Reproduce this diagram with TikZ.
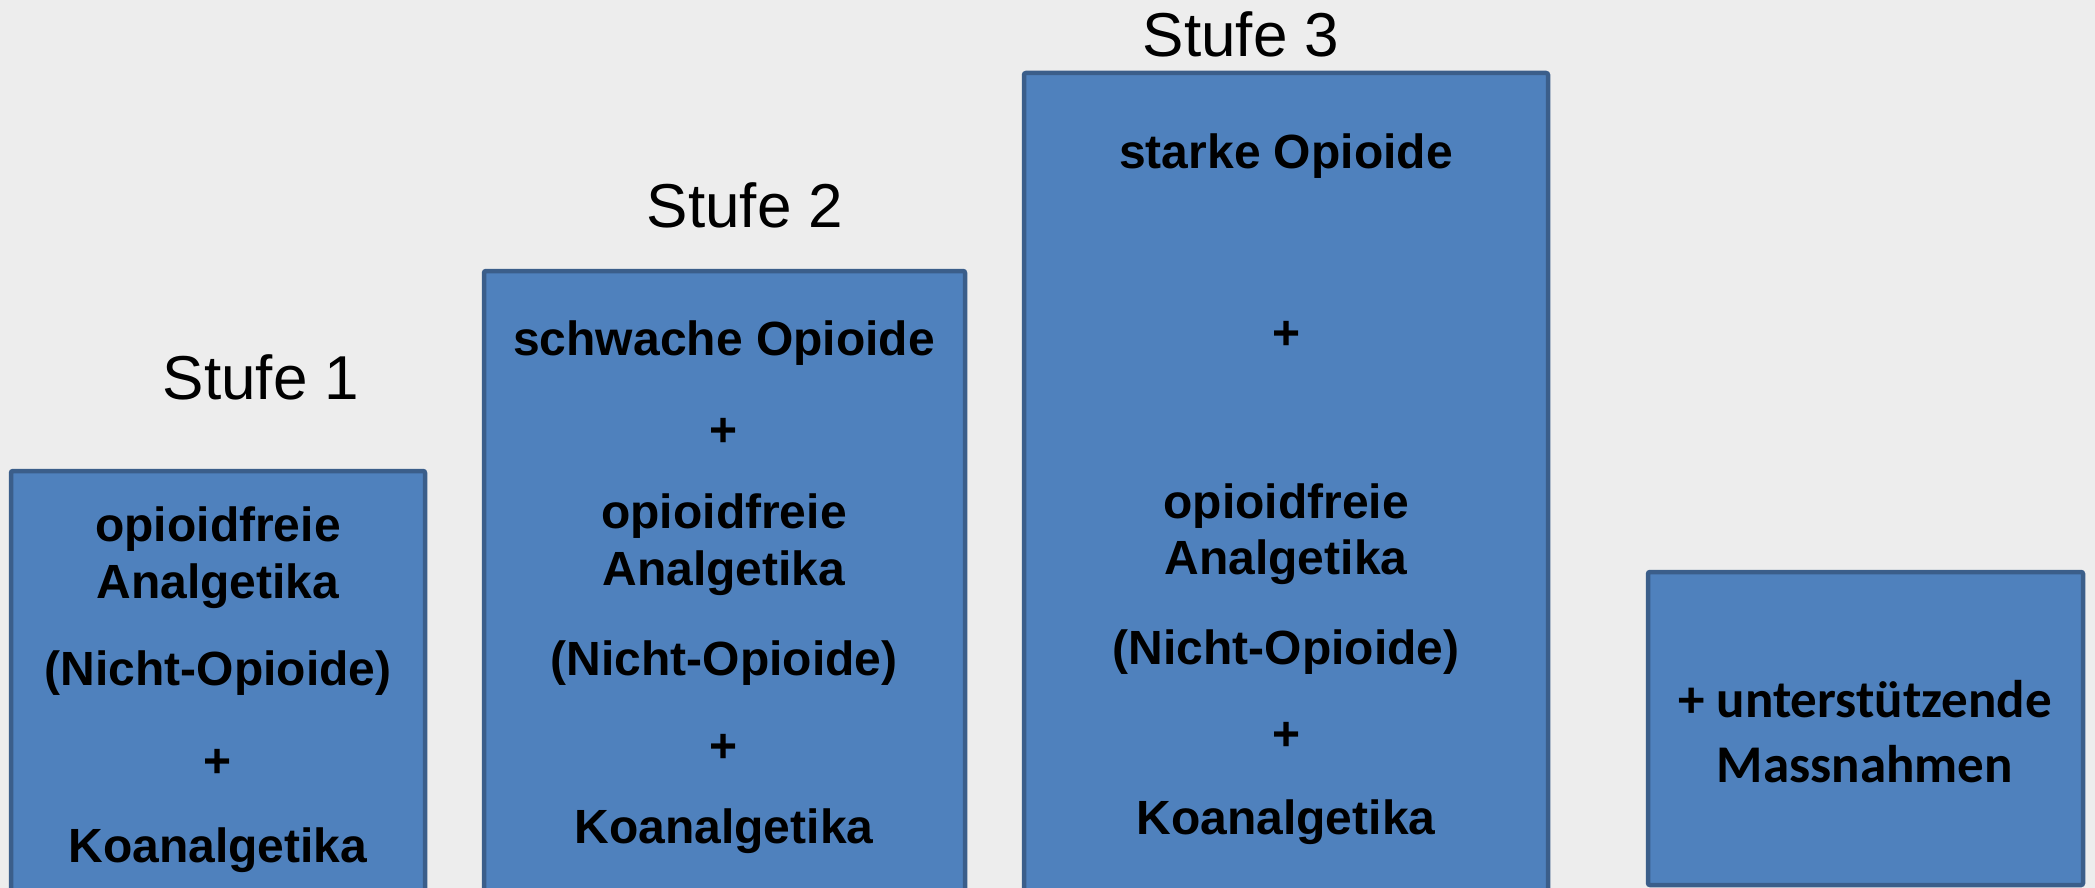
\documentclass[tikz,border=0pt]{standalone}
\usepackage{fontspec}
\setmainfont{Liberation Sans}
\newfontfamily\calib{Carlito}
\definecolor{bg}{HTML}{EDEDED}
\definecolor{boxfill}{HTML}{4F81BD}
\definecolor{boxline}{HTML}{3B5E8A}
\begin{document}
\begin{tikzpicture}[x=1pt,y=-1pt,
  stufebox/.style={draw=boxline,fill=boxfill,line width=4.5pt,rounded corners=2pt},
  boxtxt/.style={anchor=base,inner sep=0pt,font=\fontsize{48}{56}\selectfont\bfseries},
  boxtxtc/.style={anchor=base,inner sep=0pt,font=\fontsize{53}{60}\selectfont\calib\bfseries},
  stufelbl/.style={anchor=base,inner sep=0pt,font=\fontsize{62}{70}\selectfont}]
\fill[bg] (0,0) rectangle (2095,888);
\useasboundingbox (0,0) rectangle (2095,888);
% boxes
\draw[stufebox] (11,471) rectangle (425,892);
\draw[stufebox] (484,271) rectangle (965,892);
\draw[stufebox] (1024,73) rectangle (1548,892);
\draw[stufebox] (1648,572) rectangle (2083,885);
% labels
\node[stufelbl] (s1) at (261,399) {Stufe 1};
\node[stufelbl] (s2) at (745,227) {Stufe 2};
\node[stufelbl] (s3) at (1241,57) {Stufe 3};
% box 1
\node[boxtxt] (a1) at (218,541) {opioidfreie};
\node[boxtxt] (a2) at (218,598) {Analgetika};
\node[boxtxt] (a3) at (218,685) {(Nicht-Opioide)};
\node[boxtxt] (a4) at (218,777) {+};
\node[boxtxt] (a5) at (218,862) {Koanalgetika};
% box 2
\node[boxtxt] (b1) at (724,355) {schwache Opioide};
\node[boxtxt] (b2) at (724,446) {+};
\node[boxtxt] (b3) at (724,528) {opioidfreie};
\node[boxtxt] (b4) at (724,585) {Analgetika};
\node[boxtxt] (b5) at (724,675) {(Nicht-Opioide)};
\node[boxtxt] (b6) at (724,762) {+};
\node[boxtxt] (b7) at (724,843) {Koanalgetika};
% box 3
\node[boxtxt] (c1) at (1286,168) {starke Opioide};
\node[boxtxt] (c2) at (1286,349) {+};
\node[boxtxt] (c3) at (1286,518) {opioidfreie};
\node[boxtxt] (c4) at (1286,574) {Analgetika};
\node[boxtxt] (c5) at (1286,664) {(Nicht-Opioide)};
\node[boxtxt] (c6) at (1286,750) {+};
\node[boxtxt] (c7) at (1286,834) {Koanalgetika};
% box 4
\node[boxtxtc] (d1) at (1865,717) {+ unterstützende};
\node[boxtxtc] (d2) at (1865,782) {Massnahmen};
\end{tikzpicture}
\end{document}
